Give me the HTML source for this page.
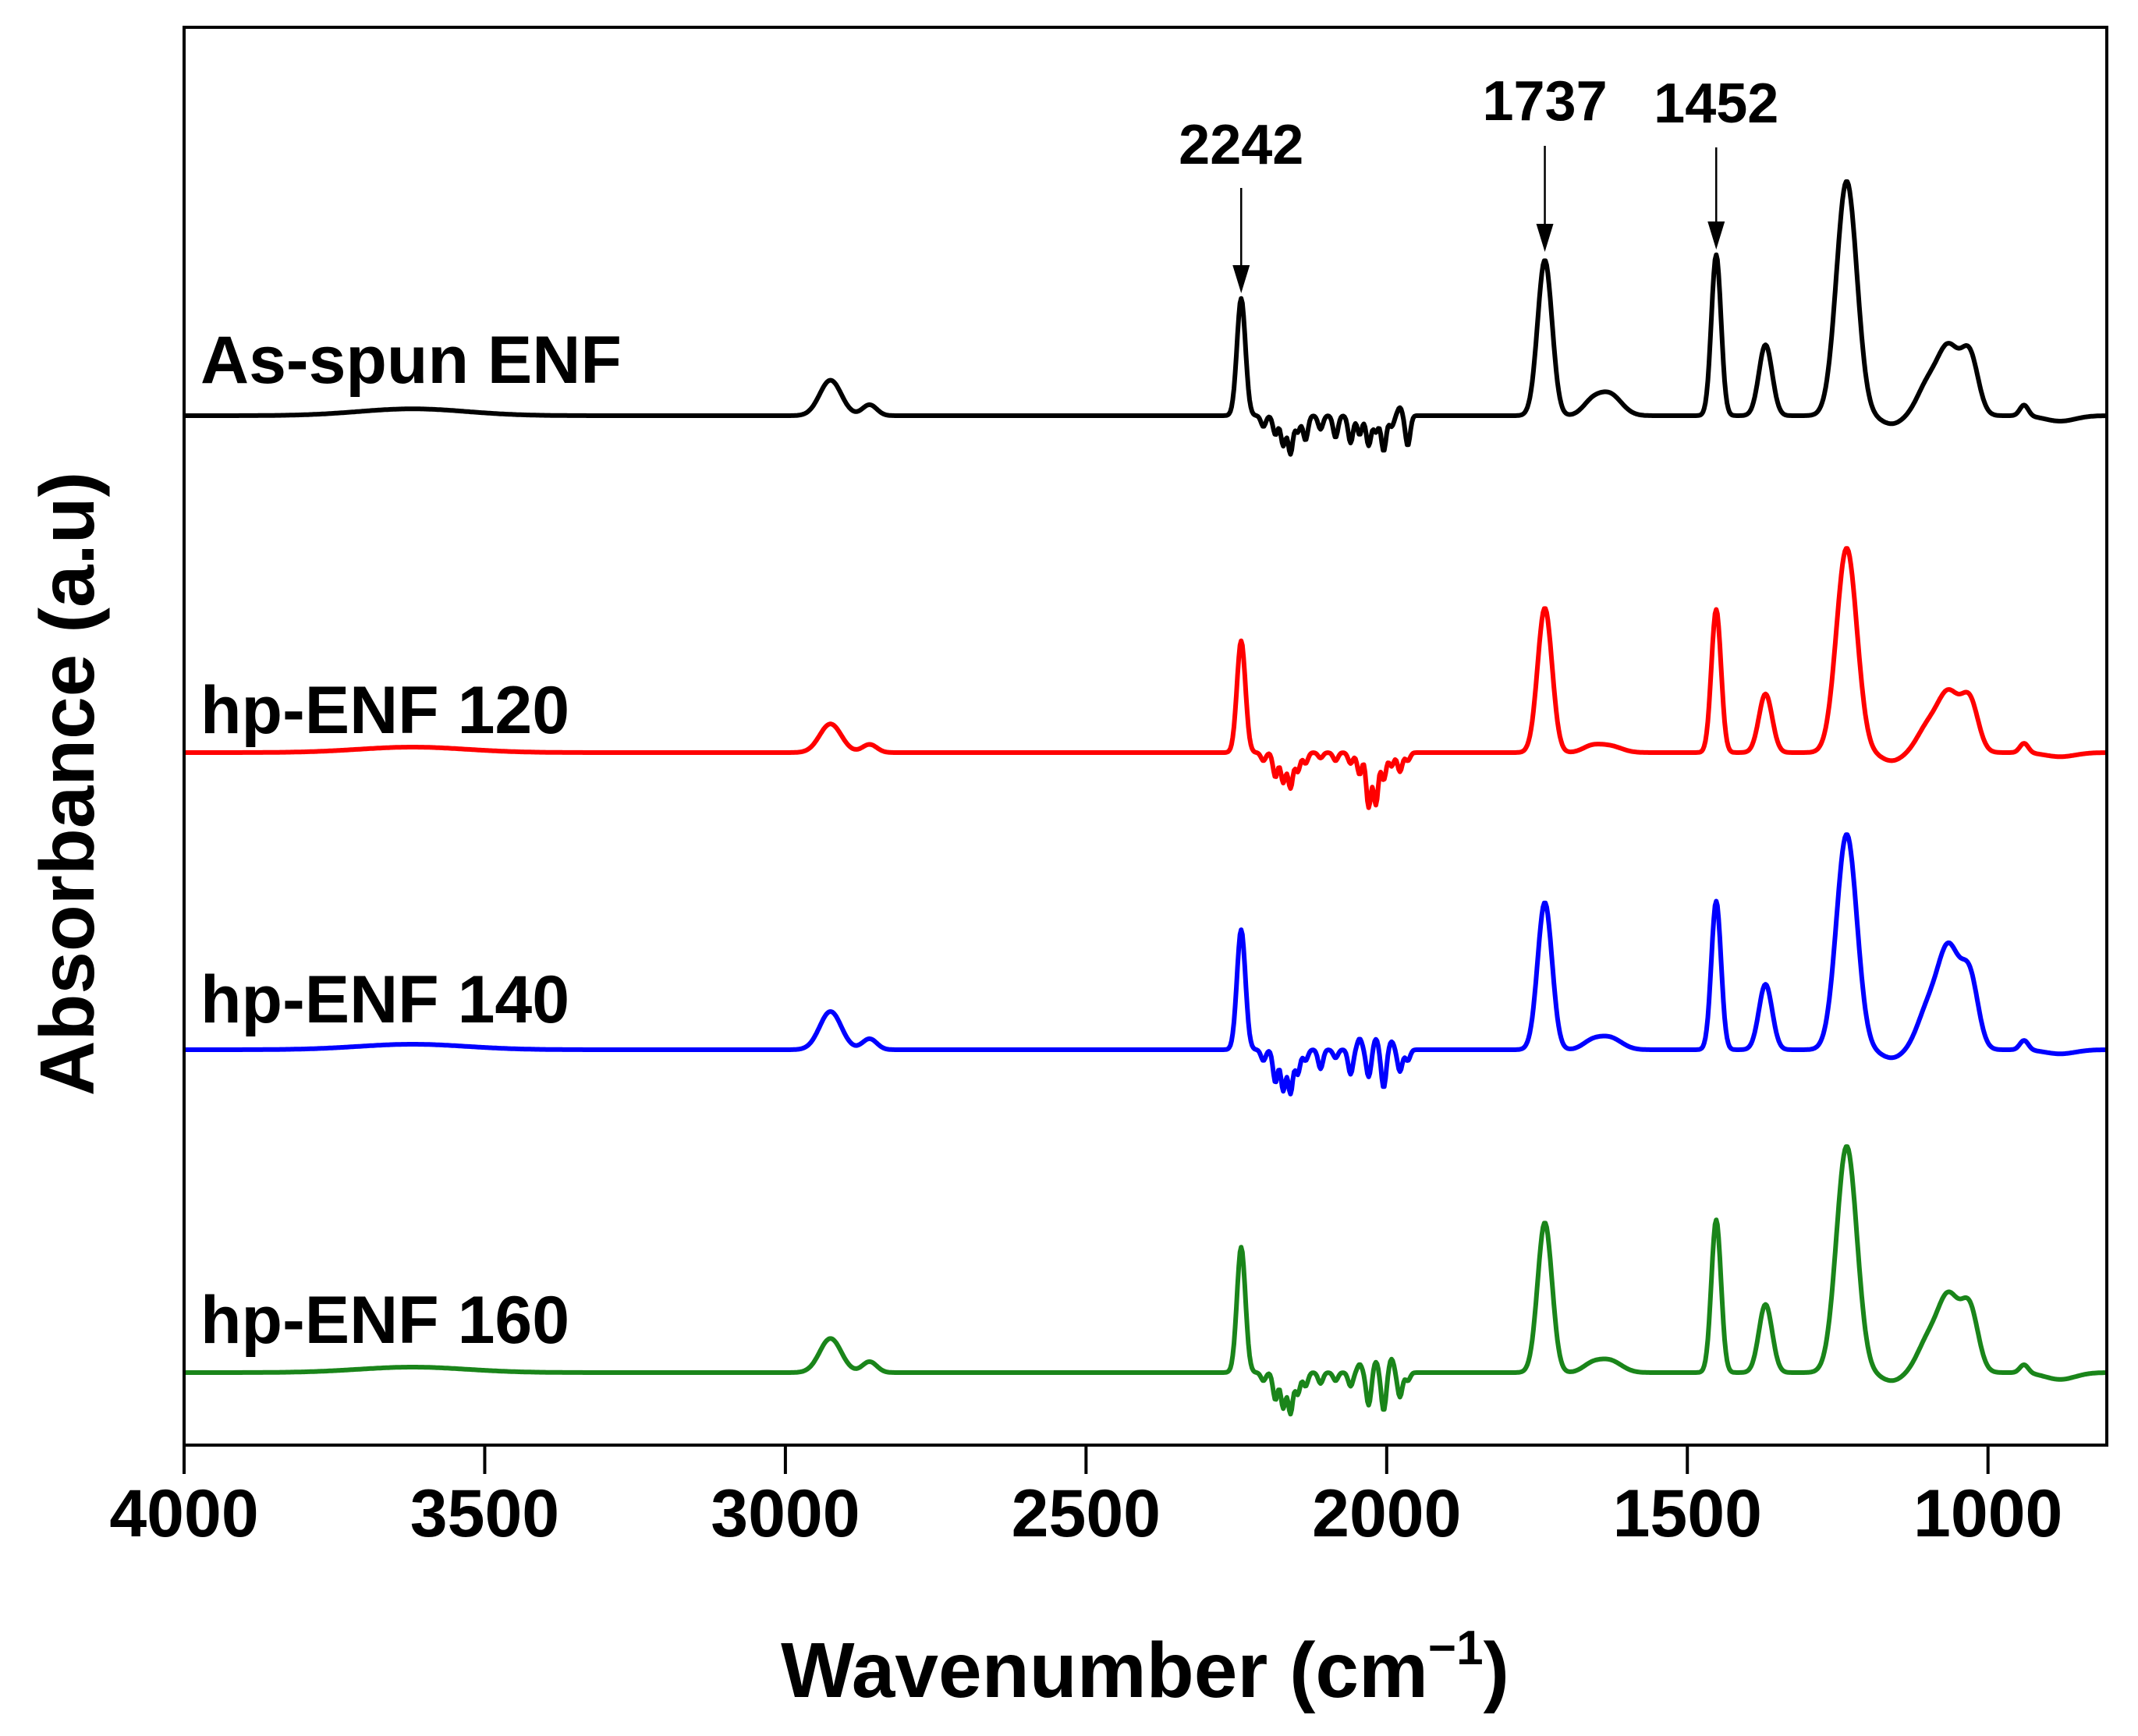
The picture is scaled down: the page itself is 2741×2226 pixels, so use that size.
<!DOCTYPE html>
<html><head><meta charset="utf-8"><style>
html,body{margin:0;padding:0;background:#fff;}
svg{display:block;font-family:"Liberation Sans",Arial,sans-serif;font-weight:bold;}
</style></head><body>
<svg id="chart" width="2741" height="2226" viewBox="0 0 2741 2226" xmlns="http://www.w3.org/2000/svg">
<rect x="0" y="0" width="2741" height="2226" fill="#fff"/>
<g id="series"></g>
<rect x="236" y="35" width="2465" height="1818" fill="none" stroke="#000" stroke-width="4"/>
<g id="xticks"></g>
<text x="1468" y="2176" font-size="100" text-anchor="middle">Wavenumber (cm<tspan dy="-42" font-size="62">−1</tspan><tspan dy="42">)</tspan></text>
<text transform="translate(120,1005) rotate(-90)" font-size="98" text-anchor="middle">Absorbance (a.u)</text>
<text x="257" y="491" font-size="86">As-spun ENF</text>
<text x="257" y="940" font-size="86">hp-ENF 120</text>
<text x="257" y="1311" font-size="86">hp-ENF 140</text>
<text x="257" y="1722" font-size="86">hp-ENF 160</text>
<g id="annot"></g>
</svg>
<script>
// x-axis ticks
const xTicks = [4000, 3500, 3000, 2500, 2000, 1500, 1000];
// common peak positions (cm-1)
const peakCenters = [3620, 2925, 2860, 2242, 1737, 1660, 1630, 1452, 1370, 1235, 1160, 1100, 1065, 1030, 940, 880];
const peakWidths  = [90, 18, 12, 7, 12, 15, 20, 8, 11, 17, 18, 18, 18, 14, 7, 25];
// peak heights per series (a.u.)
const heightsAsSpun = [5, 26, 8, 86, 114, 8, 16, 118, 52, 172, -6, 22, 48, 42, 8, -4];
const heights120    = [4, 21, 6, 82, 106, 4, 5, 105, 43, 150, -6, 18, 42, 36, 7, -3];
const heights140    = [4, 28, 8, 88, 108, 5, 9, 109, 48, 158, -6, 28, 72, 50, 7, -3];
const heights160    = [4, 25, 8, 92, 110, 5, 9, 112, 50, 166, -6, 22, 54, 44, 6, -5];
// noise features in 2200-1960 region: positions + amplitudes
const noisePos = [2205, 2185, 2172, 2160, 2148, 2135, 2110, 2085, 2060, 2045, 2030, 2018, 2005, 1992, 1978, 1965];
const noiseAsSpun = [-8, -14, -22, -28, -12, -18, -10, -16, -20, -14, -22, -12, -26, -8, 6, -22];
const noise120    = [-6, -18, -22, -26, -14, -8, -4, -6, -8, -16, -40, -38, -20, -10, -14, -6];
const noise140    = [-8, -24, -30, -32, -18, -8, -14, -6, -18, 8, -20, 8, -28, 6, -16, -8];
const noise160    = [-6, -20, -26, -30, -16, -10, -8, -6, -10, 6, -24, 8, -28, 10, -18, -6];
const baselines = [533, 965, 1346, 1760];
const colors = ["#000000", "#ff0000", "#0000ff", "#1a851a"];
const seriesNames = ["as-spun-enf", "hp-enf-120", "hp-enf-140", "hp-enf-160"];

const NS = "http://www.w3.org/2000/svg";
function xPos(w){ return 236 + (4000 - w) * 0.7709; }
function yPos(v, base){ return base - v * 1.748; }

const g = document.getElementById('series');
const H = [heightsAsSpun, heights120, heights140, heights160];
const N = [noiseAsSpun, noise120, noise140, noise160];
for (let s = 0; s < 4; s++) {
  let d = "";
  for (let w = 4000; w >= 802; w -= 2) {
    let v = 0;
    for (let k = 0; k < peakCenters.length; k++) {
      const z = (w - peakCenters[k]) / peakWidths[k];
      v += H[s][k] * Math.exp(-0.5 * z * z);
    }
    for (let k = 0; k < noisePos.length; k++) {
      const z = (w - noisePos[k]) / 4;
      v += N[s][k] * Math.exp(-0.5 * z * z);
    }
    d += (d ? "L" : "M") + xPos(w).toFixed(1) + " " + yPos(v, baselines[s]).toFixed(1);
  }
  const p = document.createElementNS(NS, "path");
  p.setAttribute("d", d);
  p.setAttribute("fill", "none");
  p.setAttribute("stroke", colors[s]);
  p.setAttribute("stroke-width", "6");
  p.setAttribute("stroke-linejoin", "round");
  
  
  g.appendChild(p);
}

const xt = document.getElementById('xticks');
xTicks.forEach(t => {
  const l = document.createElementNS(NS, "line");
  l.setAttribute("x1", xPos(t)); l.setAttribute("x2", xPos(t));
  l.setAttribute("y1", 1853); l.setAttribute("y2", 1890);
  l.setAttribute("stroke", "#000"); l.setAttribute("stroke-width", "4");
  
  
  xt.appendChild(l);
  const tx = document.createElementNS(NS, "text");
  tx.setAttribute("x", xPos(t)); tx.setAttribute("y", 1970);
  tx.setAttribute("font-size", "86"); tx.setAttribute("text-anchor", "middle");
  tx.textContent = t;
  
  
  xt.appendChild(tx);
});

// annotations
const annotPeaks = [2242, 1737, 1452];
const annotLabelY = [210, 154, 157];
const annotTop = [241, 187, 189];
const annotTip = [376, 323, 320];
const an = document.getElementById('annot');
annotPeaks.forEach((pk, i) => {
  const x = xPos(pk);
  const l = document.createElementNS(NS, "line");
  l.setAttribute("x1", x); l.setAttribute("x2", x);
  l.setAttribute("y1", annotTop[i]); l.setAttribute("y2", annotTip[i] - 30);
  l.setAttribute("stroke", "#000"); l.setAttribute("stroke-width", "2.5");
  
  
  an.appendChild(l);
  const h = document.createElementNS(NS, "polygon");
  h.setAttribute("points", (x-11)+","+(annotTip[i]-36)+" "+(x+11)+","+(annotTip[i]-36)+" "+x+","+annotTip[i]);
  h.setAttribute("fill", "#000");
  
  
  an.appendChild(h);
  const t = document.createElementNS(NS, "text");
  t.setAttribute("x", x); t.setAttribute("y", annotLabelY[i]);
  t.setAttribute("font-size", "72"); t.setAttribute("text-anchor", "middle");
  t.textContent = pk;
  
  
  an.appendChild(t);
});
</script>
</body></html>
